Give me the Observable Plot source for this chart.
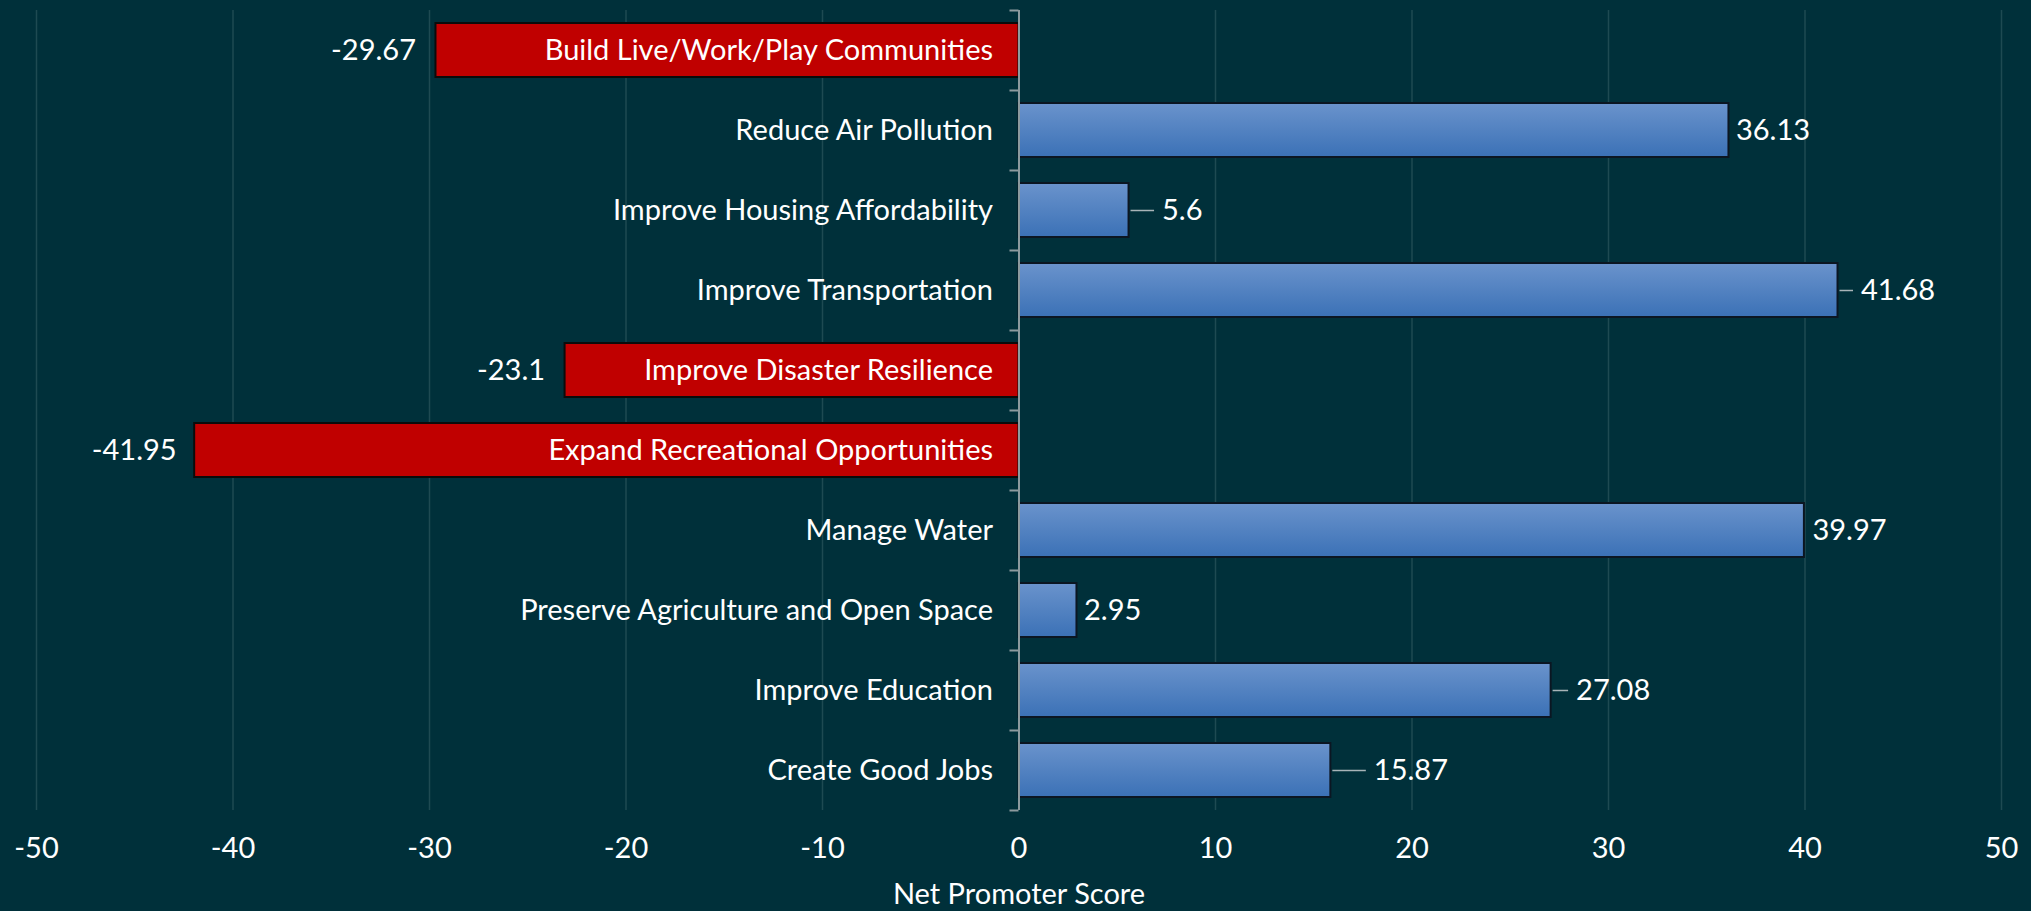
<!DOCTYPE html>
<html><head><meta charset="utf-8">
<script src="https://cdn.jsdelivr.net/npm/d3@7"></script>
<script src="https://cdn.jsdelivr.net/npm/@observablehq/plot@0.6"></script>
<style>
html,body{margin:0;padding:0;background:#00303A;overflow:hidden}
</style></head><body><div id="chart"></div>
<script>
// ---- data ----
const categories = [
  "Build Live/Work/Play Communities",
  "Reduce Air Pollution",
  "Improve Housing Affordability",
  "Improve Transportation",
  "Improve Disaster Resilience",
  "Expand Recreational Opportunities",
  "Manage Water",
  "Preserve Agriculture and Open Space",
  "Improve Education",
  "Create Good Jobs"
];
const scores = [-29.67, 36.13, 5.6, 41.68, -23.1, -41.95, 39.97, 2.95, 27.08, 15.87];
const valueLabels = ["-29.67", "36.13", "5.6", "41.68", "-23.1", "-41.95", "39.97", "2.95", "27.08", "15.87"];
const xTicks = [-50, -40, -30, -20, -10, 0, 10, 20, 30, 40, 50];
const xTickLabels = ["-50", "-40", "-30", "-20", "-10", "0", "10", "20", "30", "40", "50"];
const xTitle = "Net Promoter Score";

// ---- style / layout ----
const W = 2031, H = 911, ML = 36, MR = 30, MT = 10, MB = 101;
const pxPerUnit = (W - ML - MR) / 100;
const labelGapPx = [20, 7, 33, 23, 20, 18, 8, 7, 25, 43]; // label distance from bar end (moved Excel labels)
const FONT = "Lato, 'Open Sans', sans-serif";
const FS = 29;

const rows = categories.map((c, i) => ({
  category: c, score: scores[i], label: valueLabels[i], gap: labelGapPx[i]
}));
const pos = rows.filter(d => d.score >= 0);
const neg = rows.filter(d => d.score < 0);
const leaders = pos.filter(d => d.gap > 15);
const bandStep = (H - MT - MB) / categories.length;

const chart = Plot.plot({
  width: W, height: H,
  marginLeft: ML, marginRight: MR, marginTop: MT, marginBottom: MB,
  style: {background: "#00303A", color: "white", fontFamily: FONT, overflow: "visible"},
  x: {domain: [-50, 50], axis: null},
  y: {domain: categories, axis: null, paddingInner: 0.325, paddingOuter: 0.1625},
  marks: [
    Plot.ruleX(xTicks, {x: d => d, stroke: "#1E4A52", strokeWidth: 1.5}),
    Plot.barX(pos, {y: "category", x: "score", fill: "url(#blueGrad)", stroke: "#0B1622", strokeWidth: 2}),
    Plot.barX(neg, {y: "category", x: "score", fill: "#C00000", stroke: "#0B0B0B", strokeWidth: 2}),
    Plot.ruleX([0], {stroke: "#8C9A9E", strokeWidth: 2}),
    Plot.ruleY(categories, {y: d => d, x1: -9 / pxPerUnit, x2: 0, dy: -bandStep / 2, stroke: "#8C9A9E", strokeWidth: 2}),
    Plot.ruleY([categories[categories.length - 1]], {y: d => d, x1: -9 / pxPerUnit, x2: 0, dy: bandStep / 2, stroke: "#8C9A9E", strokeWidth: 2}),
    Plot.link(leaders, {
      x1: d => d.score + 1.5 / pxPerUnit, x2: d => d.score + (d.gap - 8) / pxPerUnit,
      y1: "category", y2: "category", stroke: "#A8B4B8", strokeWidth: 1.5
    }),
    Plot.text(rows, {y: "category", x: 0, text: "category", dx: -26, textAnchor: "end", fill: "white", fontSize: FS}),
    Plot.text(pos, {y: "category", x: d => d.score + d.gap / pxPerUnit, text: "label", textAnchor: "start", fill: "white", fontSize: FS}),
    Plot.text(neg, {y: "category", x: d => d.score - d.gap / pxPerUnit, text: "label", textAnchor: "end", fill: "white", fontSize: FS}),
    Plot.text(xTicks, {x: d => d, text: (d, i) => xTickLabels[i], frameAnchor: "bottom", dy: 47, fill: "white", fontSize: FS}),
    Plot.text([xTitle], {text: d => d, frameAnchor: "bottom", dy: 93, fill: "white", fontSize: FS})
  ]
});

const svg = d3.select(chart);
const defs = svg.insert("defs", ":first-child");
const grad = defs.append("linearGradient").attr("id", "blueGrad")
  .attr("x1", 0).attr("y1", 0).attr("x2", 0).attr("y2", 1);
grad.append("stop").attr("offset", "0%").attr("stop-color", "#6A93CC");
grad.append("stop").attr("offset", "100%").attr("stop-color", "#3B71B6");

document.getElementById("chart").appendChild(chart);
</script>
</body></html>
